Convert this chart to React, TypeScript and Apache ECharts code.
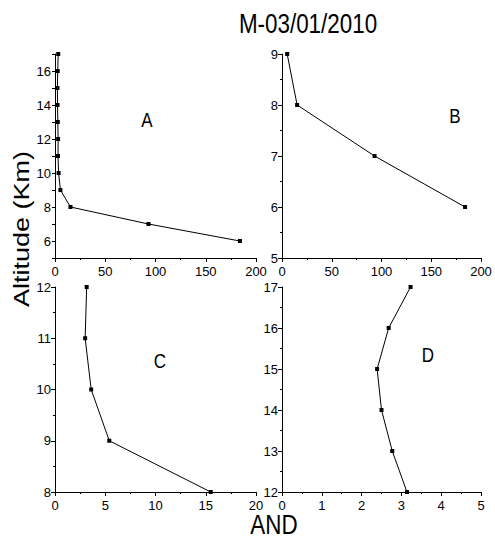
import React, { useEffect, useRef } from "react";
import * as echarts from "echarts";

const altA = [17, 16, 15, 14, 13, 12, 11, 10, 9, 8, 7, 6];
const andA = [3.2, 2.7, 2.4, 2.5, 2.8, 3.1, 3.0, 3.6, 5.4, 15.4, 93, 184];

const altB = [9, 8, 7, 6];
const andB = [5.2, 15.2, 93, 184];

const altC = [12, 11, 10, 9, 8];
const andC = [3.15, 3.0, 3.6, 5.4, 15.5];

const altD = [17, 16, 15, 14, 13, 12];
const andD = [3.23, 2.68, 2.39, 2.5, 2.77, 3.14];

const panelLabels = ["A", "B", "C", "D"];
const titleText = "M-03/01/2010";
const yTitle = "Altitude (Km)";
const xTitle = "AND";

const FONT = "'Liberation Sans', Arial, sans-serif";

export default function App() {
  const ref = useRef<HTMLDivElement>(null);
  useEffect(() => {
    if (!ref.current) return;
    const chart = echarts.init(ref.current, null, { renderer: "svg" });
    const grids = [
      { left: 55, top: 54, width: 201, height: 204 },
      { left: 282, top: 54, width: 199, height: 204 },
      { left: 55, top: 287, width: 201, height: 205 },
      { left: 282, top: 287, width: 199, height: 205 },
    ];
    const axisCommon = {
      axisLine: { show: true, onZero: false, lineStyle: { color: "#000", width: 1 } },
      axisTick: { show: true, inside: false, length: 4, lineStyle: { color: "#000" } },
      minorTick: { show: true, splitNumber: 2, length: 2, lineStyle: { color: "#000" } },
      splitLine: { show: false },
      axisLabel: { color: "#000", fontFamily: FONT, fontSize: 13 },
    };
    const xRanges = [
      [0, 200, 50],
      [0, 200, 50],
      [0, 20, 5],
      [0, 5, 1],
    ];
    const yRanges = [
      [5, 17, 1],
      [5, 9, 1],
      [8, 12, 1],
      [12, 17, 1],
    ];
    const xAxis = xRanges.map((r, i) => ({
      ...axisCommon,
      type: "value",
      gridIndex: i,
      min: r[0],
      max: r[1],
      interval: r[2],
      axisLabel: { ...axisCommon.axisLabel, margin: 7, showMinLabel: true, showMaxLabel: true },
    }));
    const yAxis = yRanges.map((r, i) => ({
      ...axisCommon,
      type: "value",
      gridIndex: i,
      min: r[0],
      max: r[1],
      interval: r[2],
      minorTick: i === 0 ? { show: false } : axisCommon.minorTick,
      axisTick: i === 0 ? { ...axisCommon.axisTick, length: 3 } : axisCommon.axisTick,
      axisLabel: {
        ...axisCommon.axisLabel,
        margin: 4,
        showMinLabel: true,
        showMaxLabel: true,
        formatter: i === 0 ? (v: number) => (v % 2 === 0 && v > 5 && v < 17 ? String(v) : "") : (v: number) => String(v),
      },
    }));
    const datasets = [
      [andA, altA],
      [andB, altB],
      [andC, altC],
      [andD, altD],
    ];
    const series = datasets.map((d, i) => ({
      type: "line",
      xAxisIndex: i,
      yAxisIndex: i,
      data: d[0].map((x, k) => [x, d[1][k]]),
      symbol: "rect",
      symbolSize: 4,
      lineStyle: { color: "#000", width: 1 },
      itemStyle: { color: "#000" },
      silent: true,
    }));
    const labelPos = [
      [147, 120],
      [455, 116],
      [160, 361],
      [428, 355],
    ];
    const graphic: any[] = panelLabels.map((t, i) => ({
      type: "text",
      x: labelPos[i][0],
      y: labelPos[i][1],
      scaleX: 0.85,
      style: {
        text: t,
        fontFamily: FONT,
        fontSize: 20,
        fill: "#000",
        textAlign: "center",
        textVerticalAlign: "middle",
      },
    }));
    graphic.push({
      type: "text",
      x: 308,
      y: 24,
      scaleX: 0.83,
      style: { text: titleText, fontFamily: FONT, fontSize: 27, fill: "#000", textAlign: "center", textVerticalAlign: "middle" },
    });
    graphic.push({
      type: "text",
      x: 21,
      y: 229,
      rotation: Math.PI / 2,
      scaleY: 0.85,
      style: { text: yTitle, fontFamily: FONT, fontSize: 27, fill: "#000", textAlign: "center", textVerticalAlign: "middle" },
    });
    graphic.push({
      type: "text",
      x: 274,
      y: 525,
      scaleX: 0.83,
      style: { text: xTitle, fontFamily: FONT, fontSize: 27, fill: "#000", textAlign: "center", textVerticalAlign: "middle" },
    });
    chart.setOption({
      animation: false,
      backgroundColor: "#fff",
      grid: grids,
      xAxis,
      yAxis,
      series,
      graphic,
    });
    return () => chart.dispose();
  }, []);
  return <div ref={ref} style={{ position: "fixed", left: 0, top: 0, width: 495, height: 540 }} />;
}
